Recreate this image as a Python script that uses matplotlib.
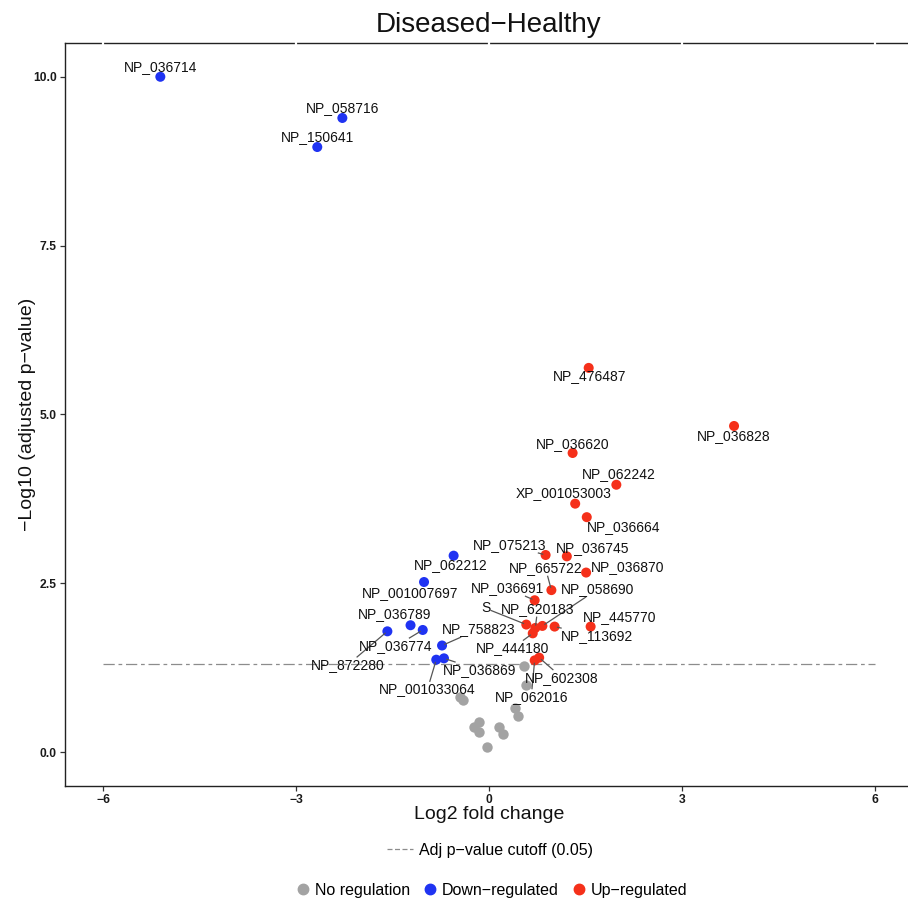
import matplotlib
matplotlib.use("Agg")
import matplotlib.pyplot as plt
import matplotlib.transforms as mtransforms
from matplotlib.lines import Line2D
import numpy as np

plt.rcParams['font.family'] = ['Liberation Sans', 'DejaVu Sans']

# log2 fold change / -log10 adjusted p-value
genes = ["NP_036714", "NP_058716", "NP_150641", "NP_062212", "NP_001007697",
         "NP_036789", "NP_036774", "NP_872280", "NP_758823", "NP_001033064",
         "NP_036869",
         "NP_476487", "NP_036828", "NP_036620", "NP_062242", "XP_001053003",
         "NP_036664", "NP_075213", "NP_036745", "NP_036870", "NP_665722",
         "NP_036691", "NP_058690", "S", "NP_620183", "NP_445770",
         "NP_113692", "NP_444180", "NP_602308", "NP_062016"]
log2fc = [-5.11, -2.28, -2.67, -0.55, -1.01,
          -1.22, -1.03, -1.58, -0.73, -0.82,
          -0.70,
          1.55, 3.81, 1.30, 1.98, 1.34,
          1.52, 0.88, 1.21, 1.51, 0.97,
          0.71, 0.83, 0.58, 0.72, 1.58,
          1.02, 0.68, 0.78, 0.71]
neglogp = [10.0, 9.39, 8.96, 2.91, 2.52,
           1.88, 1.81, 1.79, 1.58, 1.37,
           1.39,
           5.69, 4.83, 4.43, 3.96, 3.68,
           3.48, 2.92, 2.90, 2.66, 2.40,
           2.25, 1.87, 1.89, 1.84, 1.86,
           1.86, 1.76, 1.40, 1.36]

# unlabelled, not significant
ns_log2fc = [0.55, 0.58, 0.40, 0.45, -0.45, -0.40, -0.16, -0.24, -0.15, -0.03, 0.15, 0.21]
ns_neglogp = [1.28, 1.00, 0.65, 0.53, 0.82, 0.78, 0.45, 0.37, 0.30, 0.08, 0.38, 0.27]

cutoff = 0.05
title = "Diseased\u2212Healthy"

# where the repelled labels ended up (data units)
label_pos = [(-5.105, 10.14), (-2.28, 9.54), (-2.67, 9.11), (-0.588, 2.77), (-1.222, 2.353),
             (-1.475, 2.047), (-1.444, 1.573), (-2.198, 1.292), (-0.159, 1.82), (-0.957, 0.932),
             (-0.148, 1.218),
             (1.564, 5.57), (3.805, 4.68), (1.30, 4.563), (2.016, 4.12), (1.16, 3.834),
             (2.10, 3.34), (0.319, 3.068), (1.611, 3.02), (2.156, 2.738), (0.879, 2.723),
             (0.280, 2.427), (1.689, 2.413), (-0.054, 2.131), (0.756, 2.117), (2.03, 2.0),
             (1.673, 1.72), (0.366, 1.54), (1.136, 1.104), (0.657, 0.823)]

GREY = '#a3a3a3'
BLUE = '#1f33f2'
RED = '#f5301a'

thr = -np.log10(cutoff)
colors = [BLUE if (y > thr and x < 0) else RED if y > thr else GREY
          for x, y in zip(log2fc, neglogp)]

fig = plt.figure(figsize=(9.08, 9.0), dpi=100)
ax = fig.add_axes([64.5 / 908, 1 - 786 / 900, (913.5 - 64.5) / 908, (786 - 43) / 900])

ax.scatter(ns_log2fc, ns_neglogp, s=56, color=GREY, linewidths=0, zorder=2)
ax.scatter(log2fc, neglogp, s=52, c=colors, linewidths=0, zorder=3)

ax.plot([-6, 6], [thr, thr], color='#8c8c8c', lw=0.9, dashes=(9, 3, 3, 3), zorder=1)

ax.set_xlim(-6.6, 6.6)
ax.set_ylim(-0.5, 10.5)
ax.set_xticks([-6, -3, 0, 3, 6])
ax.set_yticks([0, 2.5, 5, 7.5, 10])
ax.set_yticklabels([f"{v:.1f}" for v in [0, 2.5, 5, 7.5, 10]])
ax.tick_params(length=3.5, width=0.9, color='#333333', labelsize=8.7, pad=2,
               labelcolor='#1a1a1a')
for lab in ax.get_xticklabels() + ax.get_yticklabels():
    lab.set_fontweight('bold')
ax.spines['right'].set_visible(False)
for sp in ['left', 'bottom', 'top']:
    ax.spines[sp].set_color('#222222')
    ax.spines[sp].set_linewidth(1.0)

# white grid breaks on the top border
trans = mtransforms.blended_transform_factory(ax.transData, ax.transAxes)
for xt in ax.get_xticks():
    ax.plot([xt, xt], [0.99, 1.01], transform=trans, color='white', lw=1.6,
            clip_on=False, zorder=5)

ax.set_title(title, fontsize=20, pad=8, color='#111111')
ax.set_xlabel("Log2 fold change", fontsize=14, labelpad=0, color='#111111')
ax.set_ylabel("\u2212Log10 (adjusted p\u2212value)", fontsize=14, labelpad=-2, color='#111111')

texts = []
for g, (lx, ly) in zip(genes, label_pos):
    t = ax.text(lx, ly, g, ha='center', va='center', fontsize=10, color='#111111', zorder=6)
    texts.append(t)

# connector segments from label box to its point, like ggrepel
fig.canvas.draw()
renderer = fig.canvas.get_renderer()
inv = ax.transData.inverted()
for t, x, y in zip(texts, log2fc, neglogp):
    bb = t.get_window_extent(renderer)
    cx, cy = (bb.x0 + bb.x1) / 2, (bb.y0 + bb.y1) / 2
    hw, hh = bb.width / 2 + 1, bb.height / 2 + 1
    px, py = ax.transData.transform((x, y))
    dx, dy = px - cx, py - cy
    tt = min(hw / abs(dx) if dx else np.inf, hh / abs(dy) if dy else np.inf)
    if tt >= 1:
        continue
    sx, sy = cx + tt * dx, cy + tt * dy
    seg = np.hypot(px - sx, py - sy)
    if seg < 6:
        continue
    ex, ey = px - dx / np.hypot(dx, dy) * 3, py - dy / np.hypot(dx, dy) * 3
    (ax0, ay0), (ax1, ay1) = inv.transform([(sx, sy), (ex, ey)])
    ax.plot([ax0, ax1], [ay0, ay1], color='#555555', lw=0.9, zorder=4)

h1 = [Line2D([], [], color='#8c8c8c', lw=0.9, dashes=(4, 2))]
fig.legend(h1, ["Adj p\u2212value cutoff (0.05)"], loc='center',
           bbox_to_anchor=(490 / 908, 1 - 850 / 900), frameon=False,
           fontsize=11.5, handlelength=1.6, handletextpad=0.4)
h2 = [Line2D([], [], marker='o', ls='', color=c, markersize=7.5) for c in [GREY, BLUE, RED]]
fig.legend(h2, ["No regulation", "Down\u2212regulated", "Up\u2212regulated"],
           loc='center', ncol=3, bbox_to_anchor=(492 / 908, 1 - 890 / 900),
           frameon=False, fontsize=11.5, handlelength=0.8, handletextpad=0.3,
           columnspacing=0.9)

fig.savefig('out.png', dpi=100)
